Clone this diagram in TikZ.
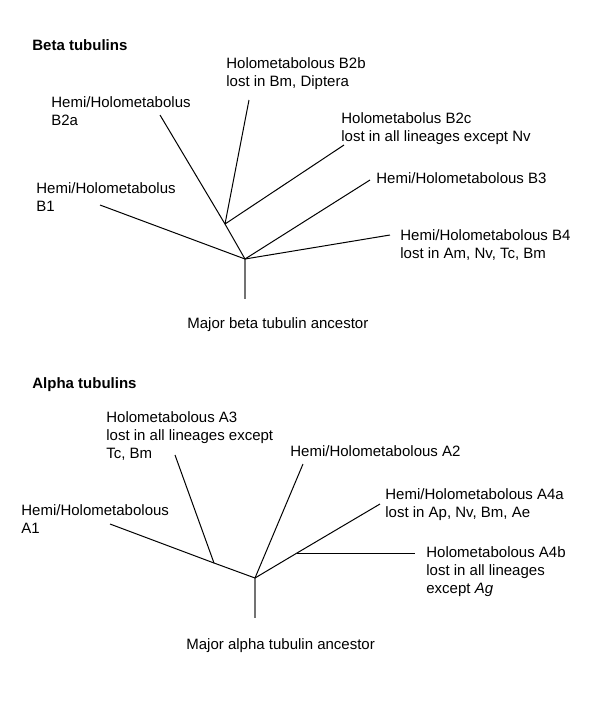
\documentclass[tikz,border=0pt]{standalone}
\usepackage{fontspec}
\setmainfont{Liberation Sans}
\begin{document}
\begin{tikzpicture}[x=0.5pt,y=-0.5pt,
  lbl/.style={anchor=north west, inner sep=0pt, align=left, font=\fontsize{7.5}{9}\selectfont},
  ttl/.style={anchor=north west, inner sep=0pt, font=\fontsize{7.5}{9}\selectfont\bfseries},
  branch/.style={draw=black, line width=0.5pt},
  stem/.style={draw=black!55, line width=0.7pt}]
\useasboundingbox (0,0) rectangle (600,720);

% ---------- Beta tubulins ----------
\node[ttl] (bt) at (32,39) {Beta tubulins};
\node[lbl] (lb2b) at (226,57) {Holometabolous B2b\\lost in Bm, Diptera};
\node[lbl] (lb2a) at (51,96) {Hemi/Holometabolus\\B2a};
\node[lbl] (lb2c) at (341,112) {Holometabolus B2c\\lost in all lineages except Nv};
\node[lbl] (lb3) at (376,172) {Hemi/Holometabolous B3};
\node[lbl] (lb1) at (36,182) {Hemi/Holometabolus\\B1};
\node[lbl] (lb4) at (400,229) {Hemi/Holometabolous B4\\lost in Am, Nv, Tc, Bm};
\node[lbl] (lbanc) at (187,317) {Major beta tubulin ancestor};

\coordinate (broot) at (245,259);
\coordinate (bbase) at (245,299);
\coordinate (bin) at (225,224);
\coordinate (tb1) at (100,205);
\coordinate (tb2a) at (160,115);
\coordinate (tb2b) at (249,100);
\coordinate (tb2c) at (344,145);
\coordinate (tb3) at (370,180);
\coordinate (tb4) at (390,235);

\draw[stem] (broot) -- (bbase);
\draw[branch] (broot) -- (tb1);
\draw[branch] (broot) -- (bin);
\draw[branch] (bin) -- (tb2a);
\draw[branch] (bin) -- (tb2b);
\draw[branch] (bin) -- (tb2c);
\draw[branch] (broot) -- (tb3);
\draw[branch] (broot) -- (tb4);

% ---------- Alpha tubulins ----------
\node[ttl] (at) at (32,377) {Alpha tubulins};
\node[lbl] (la3) at (106,411) {Holometabolous A3\\lost in all lineages except\\Tc, Bm};
\node[lbl] (la2) at (290,445) {Hemi/Holometabolous A2};
\node[lbl] (la4a) at (385,488) {Hemi/Holometabolous A4a\\lost in Ap, Nv, Bm, Ae};
\node[lbl] (la1) at (21,504) {Hemi/Holometabolous\\A1};
\node[lbl] (la4b) at (426,546) {Holometabolous A4b\\lost in all lineages\\except \textit{Ag}};
\node[lbl] (laanc) at (186,638) {Major alpha tubulin ancestor};

\coordinate (aroot) at (255,578);
\coordinate (abase) at (255,618);
\coordinate (aj3) at (214,563);
\coordinate (aj4) at (297,553);
\coordinate (ta1) at (110,524);
\coordinate (ta3) at (175,455);
\coordinate (ta2) at (303,464);
\coordinate (ta4a) at (380,504);
\coordinate (ta4b) at (415,553);

\draw[stem] (aroot) -- (abase);
\draw[branch] (aroot) -- (aj3) -- (ta1);
\draw[branch] (aj3) -- (ta3);
\draw[branch] (aroot) -- (ta2);
\draw[branch] (aroot) -- (aj4) -- (ta4a);
\draw[branch] (aj4) -- (ta4b);
\end{tikzpicture}
\end{document}
